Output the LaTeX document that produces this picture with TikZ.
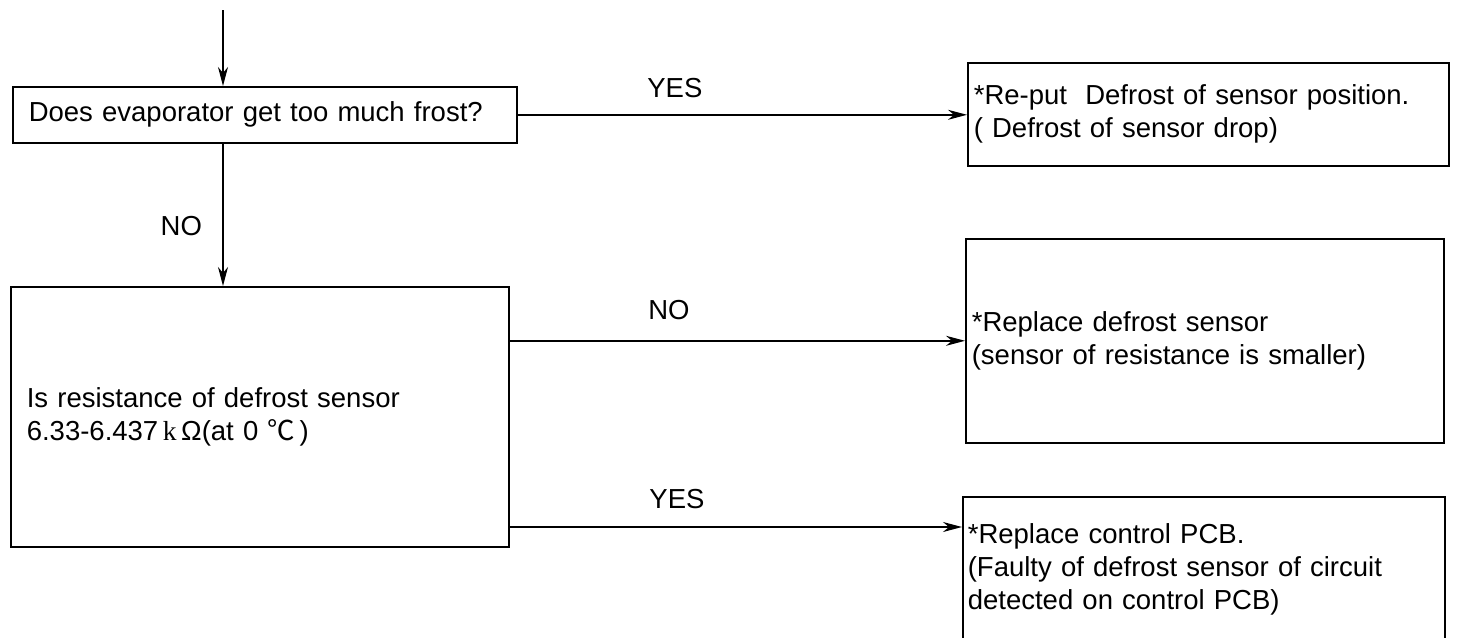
\documentclass[tikz,border=0pt]{standalone}
\usepackage{fontspec}
\setmainfont{Liberation Sans}
\newfontfamily\kfont{Liberation Serif}
\newfontfamily\cjk{Noto Sans CJK SC}
\usetikzlibrary{positioning}
\usetikzlibrary{arrows.meta}

\begin{document}
\begin{tikzpicture}[x=1pt, y=-1pt,
		every node/.style={font=\fontsize{27.5}{33}\selectfont},
		box/.style={draw, rectangle, line width=1.6pt, anchor=north west, align=left, inner ysep=0pt},
		link/.style={->, line width=1.4pt},
		>={Stealth[length=19pt, width=10pt, inset=6pt]}]
			\useasboundingbox (0,0) rectangle (1458,637);
			\clip (0,0) rectangle (1458,637);

			\node[box, inner xsep=16pt, text width=472pt, minimum height=56pt] (frost) at (12,86) {Does evaporator get too much frost?};
			\node[box, inner xsep=6pt, text width=469pt, minimum height=103pt] (reput) at (967,62) {*Re-put~ Defrost of sensor position.\\( Defrost of sensor drop)};
			\node[box, inner xsep=16pt, text width=466pt, minimum height=260pt] (resist) at (10,286) {Is resistance of defrost sensor\\6.33-6.437\,{\kfont k}\,Ω(at 0 {\cjk ℃}\,)};
			\node[box, inner xsep=6pt, text width=466pt, minimum height=204pt] (replsensor) at (965,238) {*Replace defrost sensor\\(sensor of resistance is smaller)};
			\node[box, inner xsep=5pt, text width=472pt, minimum height=146pt] (replpcb) at (962,496) {*Replace control PCB.\\(Faulty of defrost sensor of circuit\\detected on control PCB)};

			\coordinate (entry) at (223,10);
			\coordinate (pcbin) at ([yshift=-31pt]replpcb.north west);

			\draw[link] (entry) -- (entry |- frost.north);
			\draw[link] (frost.east) -- node[above=13pt, pos=0.35] (yes1) {YES} (frost.east -| reput.west);
			\draw[link] (entry |- frost.south) -- node[left=17pt, pos=0.58] (no1) {NO} (entry |- resist.north);
			\draw[link] (resist.east |- replsensor.west) -- node[above=17pt, pos=0.35] (no2) {NO} (replsensor.west);
			\draw[link] (resist.east |- pcbin) -- node[above=14pt, pos=0.37] (yes2) {YES} (pcbin);
		\end{tikzpicture}
\end{document}
